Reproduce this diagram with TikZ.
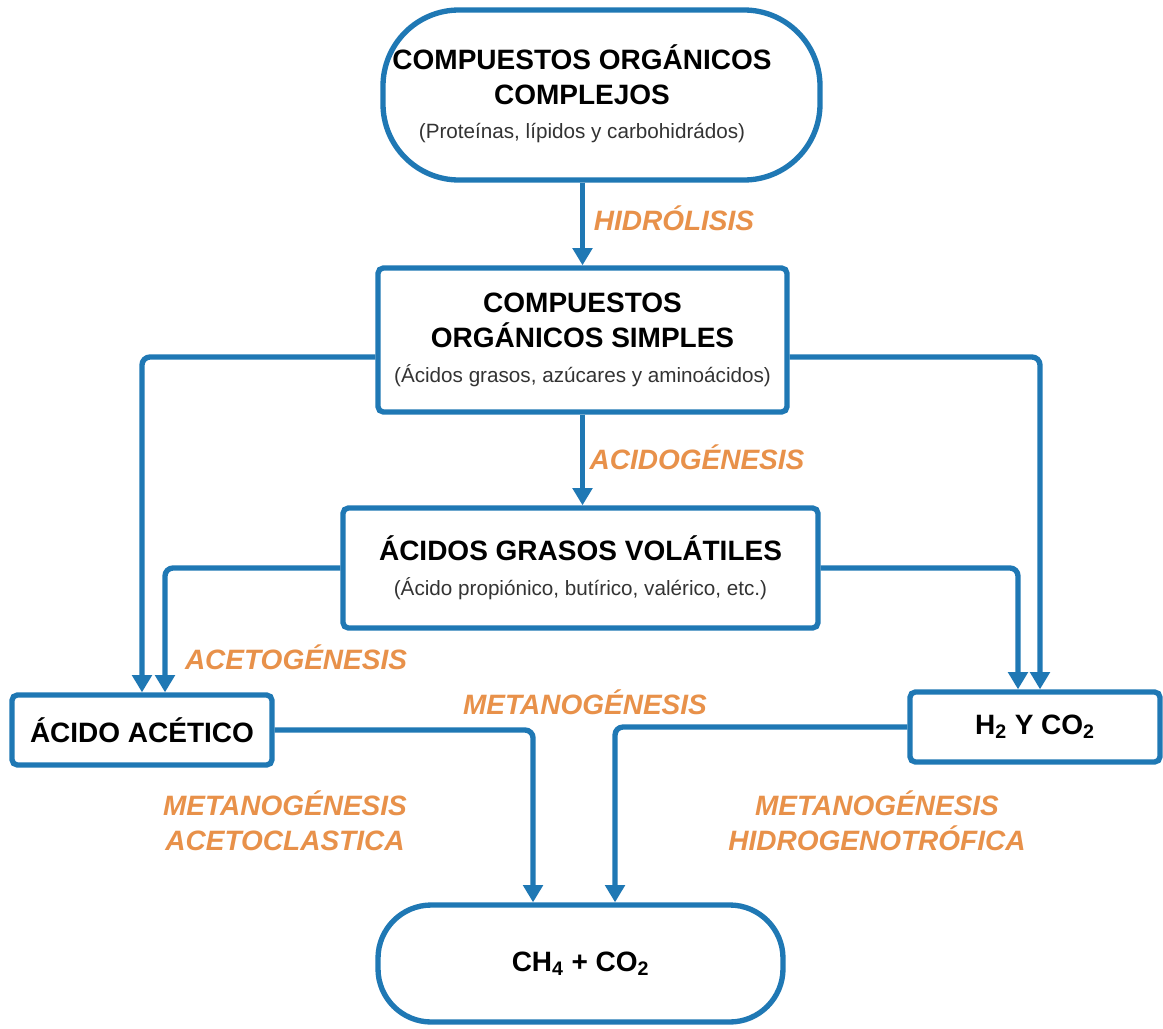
\documentclass[tikz,border=0pt]{standalone}
\usepackage{fontspec}
\setmainfont{Liberation Sans}
\usetikzlibrary{arrows.meta}
\definecolor{blu}{HTML}{1F78B4}
\definecolor{org}{HTML}{E8914A}
\definecolor{subgray}{HTML}{333333}
\newcommand{\subf}{\fontsize{15.5}{20}\selectfont\mdseries\color{subgray}}
\begin{document}
\begin{tikzpicture}[x=0.75pt,y=-0.75pt,
  box/.style={draw=blu,line width=4pt,fill=white,rounded corners=4pt,align=center,inner sep=0pt,
    font=\fontsize{21}{26}\selectfont\bfseries},
  txt/.style={align=center,inner sep=0pt,font=\fontsize{21}{26}\selectfont\bfseries},
  arr/.style={draw=blu,line width=4pt,-{Triangle[length=13pt,width=14.5pt]},rounded corners=6pt},
  lab/.style={text=org,font=\fontsize{21}{26}\selectfont\bfseries\itshape,align=center}]
\useasboundingbox[fill=white] (0,0) rectangle (1163,1028);

\node[box, minimum width=327.75pt, minimum height=127.5pt, rounded corners=57pt] (t) at (601.5,95) {};
\node[txt] (tt) at (582,94)
  {COMPUESTOS ORGÁNICOS\\COMPLEJOS\\{\subf(Proteínas, lípidos y carbohidrádos)}};
\node[box, minimum width=306.75pt, minimum height=108pt] (s) at (582.5,340)
  {COMPUESTOS\\ORGÁNICOS SIMPLES\\{\subf(Ácidos grasos, azúcares y aminoácidos)}};
\node[box, minimum width=356.25pt, minimum height=90pt] (v) at (580.5,568)
  {ÁCIDOS GRASOS VOLÁTILES\\{\subf(Ácido propiónico, butírico, valérico, etc.)}};
\node[box, minimum width=195pt, minimum height=52.5pt] (a) at (142,730) {ÁCIDO ACÉTICO};
\node[box, minimum width=187.5pt, minimum height=52.5pt] (h) at (1035,727)
  {H\textsubscript{2} Y CO\textsubscript{2}};
\node[box, minimum width=303.75pt, minimum height=87.75pt, rounded corners=40pt] (b) at (580.5,963.5)
  {CH\textsubscript{4} + CO\textsubscript{2}};

\draw[arr] (t.south -| s.north) -- (s.north);
\draw[arr] (s.south) -- (s.south |- v.north);
\draw[arr] ([yshift=-12.75pt]s.west) -| (a.north);
\draw[arr] (v.west) -| ([xshift=17.25pt]a.north);
\draw[arr] ([yshift=-12.75pt]s.east) -| ([xshift=3.75pt]h.north);
\draw[arr] (v.east) -| ([xshift=-12.75pt]h.north);
\draw[arr] (a.east) -| ([xshift=-35.6pt]b.north);
\draw[arr] (h.west) -| ([xshift=25.9pt]b.north);

\node[lab] (l1) at (674,218) {HIDRÓLISIS};
\node[lab] (l2) at (697,457) {ACIDOGÉNESIS};
\node[lab] (l3) at (296,657) {ACETOGÉNESIS};
\node[lab] (l4) at (585,702) {METANOGÉNESIS};
\node[lab] (l5) at (285,821) {METANOGÉNESIS\\ACETOCLASTICA};
\node[lab] (l6) at (877,821) {METANOGÉNESIS\\HIDROGENOTRÓFICA};
\end{tikzpicture}
\end{document}
